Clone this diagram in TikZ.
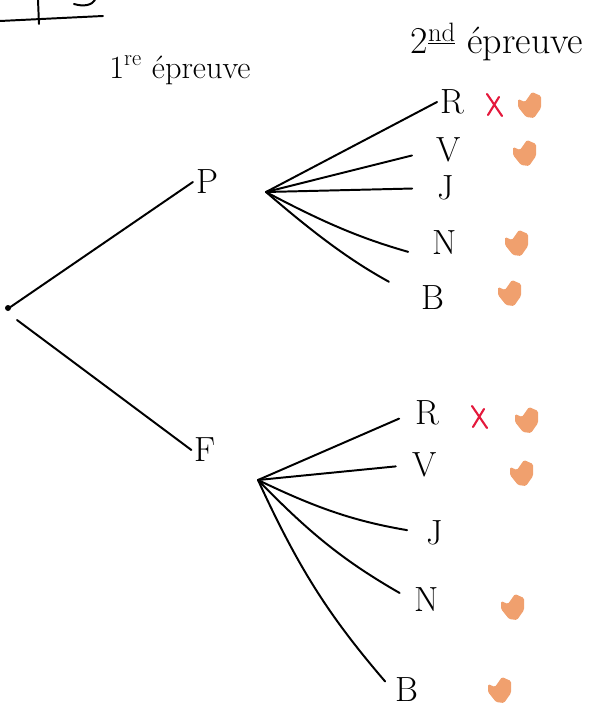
\documentclass[tikz,border=0pt]{standalone}
\usetikzlibrary{positioning}

\definecolor{saumon}{RGB}{240,160,110}
\definecolor{rouge}{RGB}{228,25,60}

\tikzset{
  branche/.style={line width=1.4pt, line cap=round},
  issue/.style={font=\Huge, inner sep=2pt},
}

% petite tache de couleur (case cochee)
\newcommand{\tache}[1]{\fill[saumon, rounded corners=1pt] (#1) ++(-12,-6) -- ++(7,3) -- ++(7,-10) -- ++(9,4) -- ++(0,12) -- ++(-7,10) -- ++(-8,-1) -- ++(-8,-10) -- cycle;}
% croix rouge
\newcommand{\croix}[1]{\draw[rouge, line width=1.5pt, line cap=round] (#1) ++(-8,-11) -- ++(15,22) (#1) ++(-7,10) -- ++(11,-18);}

\begin{document}
\begin{tikzpicture}[x=0.25mm, y=-0.25mm, >=latex]
    \useasboundingbox (0,0) rectangle (594,707);

    % titre coupe en haut
    \draw[branche] (0,21) -- (103,16);
    \draw[branche] (38,0) -- (39,24);
    \draw[branche] (74,4) .. controls (84,7) and (92,5) .. (95,0);

    \node (t1) at (180,70) {\fontsize{23}{26}\selectfont 1\textsuperscript{re} épreuve};
    \node (t2) at (497,42) {\fontsize{27}{30}\selectfont 2\textsuperscript{\underline{nd}} épreuve};

    % racine
    \fill (8,308) circle (3);
    \coordinate (root) at (9,308);

    % premiere epreuve
    \node[issue] (p) at (207,182) {P};
    \node[issue] (f) at (205,450) {F};
    \draw[branche] (root) -- (p.west);
    \draw[branche] (root) ++(8,12) -- (f.west);

    % seconde epreuve apres P
    \coordinate (p-out) at (266,192);
    \node[issue] (pr) at (452,102) {R};
    \node[issue] (pv) at (449,150) {V};
    \node[issue] (pj) at (446,188) {J};
    \node[issue] (pn) at (445,243) {N};
    \node[issue] (pb) at (433,298) {B};
    \draw[branche] (p-out) -- (pr.west);
    \draw[branche, shorten >=16pt] (p-out) -- (pv.west);
    \draw[branche, shorten >=16pt] (p-out) -- (pj.west);
    \draw[branche, shorten >=16pt] (p-out) to[bend right=6] (pn.south west);
    \draw[branche, shorten >=24pt] (p-out) to[bend right=6] (pb.west);

    % seconde epreuve apres F
    \coordinate (f-out) at (258,480);
    \node[issue] (fr) at (427,413) {R};
    \node[issue] (fv) at (425,465) {V};
    \node[issue] (fj) at (435,533) {J};
    \node[issue] (fn) at (427,600) {N};
    \node[issue] (fb) at (407,690) {B};
    \draw[branche, shorten >=10pt] (f-out) -- (fr.west);
    \draw[branche, shorten >=10pt] (f-out) -- (fv.west);
    \draw[branche, shorten >=12pt] (f-out) to[bend right=8] (fj.west);
    \draw[branche, shorten >=10pt] (f-out) to[bend right=8] (fn.west);
    \draw[branche, shorten >=8pt] (f-out) to[bend right=8] (fb.west);

    % marques
    \croix{495,105}
    \croix{480,417}
    \tache{530,105}
    \tache{525,153}
    \tache{517,243}
    \tache{510,293}
    \tache{527,420}
    \tache{522,473}
    \tache{513,607}
    \tache{500,690}
\end{tikzpicture}
\end{document}
